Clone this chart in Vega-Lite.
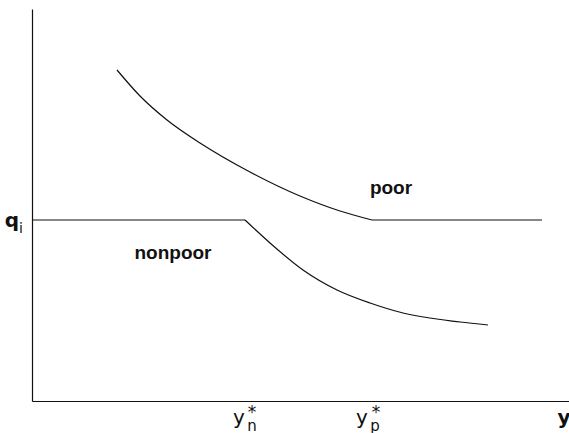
{
  "$schema": "https://vega.github.io/schema/vega-lite/v6.json",
  "width": 537,
  "height": 392,
  "autosize": {"type": "none"},
  "padding": {"left": 32, "top": 9, "right": 0, "bottom": 32},
  "background": "white",
  "config": {
    "view": {"stroke": null},
    "axis": {"grid": false, "ticks": false, "labels": false, "title": null, "domainColor": "#111", "domainWidth": 1.2}
  },
  "datasets": {
    "curves": [
      {"series": "poor curve", "order": 1, "x": 85, "y": 331},
      {"series": "poor curve", "order": 2, "x": 108, "y": 305},
      {"series": "poor curve", "order": 3, "x": 135, "y": 281},
      {"series": "poor curve", "order": 4, "x": 168, "y": 258},
      {"series": "poor curve", "order": 5, "x": 218, "y": 229},
      {"series": "poor curve", "order": 6, "x": 268, "y": 205},
      {"series": "poor curve", "order": 7, "x": 308, "y": 190},
      {"series": "poor curve", "order": 8, "x": 340, "y": 181},
      {"series": "poor flat", "order": 1, "x": 340, "y": 181},
      {"series": "poor flat", "order": 2, "x": 510, "y": 181},
      {"series": "nonpoor flat", "order": 1, "x": 0, "y": 181},
      {"series": "nonpoor flat", "order": 2, "x": 213, "y": 181},
      {"series": "nonpoor curve", "order": 1, "x": 213, "y": 181},
      {"series": "nonpoor curve", "order": 2, "x": 238, "y": 158},
      {"series": "nonpoor curve", "order": 3, "x": 271, "y": 131},
      {"series": "nonpoor curve", "order": 4, "x": 305, "y": 111},
      {"series": "nonpoor curve", "order": 5, "x": 338, "y": 98},
      {"series": "nonpoor curve", "order": 6, "x": 371, "y": 88},
      {"series": "nonpoor curve", "order": 7, "x": 428, "y": 79},
      {"series": "nonpoor curve", "order": 8, "x": 456, "y": 76}
    ],
    "labels": [
      {"role": "main", "x": 207, "y": -23, "t": "y"},
      {"role": "sub", "x": 220, "y": -30, "t": "n"},
      {"role": "sup", "x": 220, "y": -17, "t": "*"},
      {"role": "main", "x": 330, "y": -23, "t": "y"},
      {"role": "sub", "x": 343, "y": -30, "t": "p"},
      {"role": "sup", "x": 344, "y": -17, "t": "*"},
      {"role": "bold", "x": 532, "y": -23, "t": "y"},
      {"role": "bold", "x": -20, "y": 174, "t": "q"},
      {"role": "qsub", "x": -11, "y": 168, "t": "i"},
      {"role": "label", "x": 359, "y": 207, "t": "poor"},
      {"role": "label", "x": 141, "y": 142, "t": "nonpoor"}
    ]
  },
  "layer": [
    {
      "data": {"name": "curves"},
      "mark": {"type": "line", "color": "#111", "strokeWidth": 1.2, "clip": false, "interpolate": "monotone"},
      "encoding": {
        "x": {"field": "x", "type": "quantitative", "scale": {"domain": [0, 537], "nice": false, "zero": false}, "axis": {"orient": "bottom"}},
        "y": {"field": "y", "type": "quantitative", "scale": {"domain": [0, 392], "nice": false, "zero": false}, "axis": {"orient": "left"}},
        "detail": {"field": "series"},
        "order": {"field": "order"}
      }
    },
    {
      "data": {"name": "labels"},
      "transform": [{"filter": "datum.role === 'main'"}],
      "mark": {"type": "text", "font": "DejaVu Sans", "fontSize": 20, "align": "center", "baseline": "alphabetic", "color": "#111", "clip": false},
      "encoding": {
        "x": {"field": "x", "type": "quantitative"},
        "y": {"field": "y", "type": "quantitative"},
        "text": {"field": "t"}
      }
    },
    {
      "data": {"name": "labels"},
      "transform": [{"filter": "datum.role === 'sub'"}],
      "mark": {"type": "text", "font": "DejaVu Sans", "fontSize": 15, "align": "center", "baseline": "alphabetic", "color": "#111", "clip": false},
      "encoding": {
        "x": {"field": "x", "type": "quantitative"},
        "y": {"field": "y", "type": "quantitative"},
        "text": {"field": "t"}
      }
    },
    {
      "data": {"name": "labels"},
      "transform": [{"filter": "datum.role === 'sup'"}],
      "mark": {"type": "text", "font": "DejaVu Sans", "fontSize": 17, "align": "center", "baseline": "alphabetic", "color": "#111", "clip": false},
      "encoding": {
        "x": {"field": "x", "type": "quantitative"},
        "y": {"field": "y", "type": "quantitative"},
        "text": {"field": "t"}
      }
    },
    {
      "data": {"name": "labels"},
      "transform": [{"filter": "datum.role === 'bold'"}],
      "mark": {"type": "text", "font": "DejaVu Sans", "fontWeight": "bold", "fontSize": 20, "align": "center", "baseline": "alphabetic", "color": "#111", "clip": false},
      "encoding": {
        "x": {"field": "x", "type": "quantitative"},
        "y": {"field": "y", "type": "quantitative"},
        "text": {"field": "t"}
      }
    },
    {
      "data": {"name": "labels"},
      "transform": [{"filter": "datum.role === 'qsub'"}],
      "mark": {"type": "text", "font": "DejaVu Sans", "fontSize": 14, "align": "center", "baseline": "alphabetic", "color": "#111", "clip": false},
      "encoding": {
        "x": {"field": "x", "type": "quantitative"},
        "y": {"field": "y", "type": "quantitative"},
        "text": {"field": "t"}
      }
    },
    {
      "data": {"name": "labels"},
      "transform": [{"filter": "datum.role === 'label'"}],
      "mark": {"type": "text", "font": "Liberation Sans", "fontWeight": "bold", "fontSize": 19, "align": "center", "baseline": "alphabetic", "color": "#111", "clip": false},
      "encoding": {
        "x": {"field": "x", "type": "quantitative"},
        "y": {"field": "y", "type": "quantitative"},
        "text": {"field": "t"}
      }
    }
  ]
}
